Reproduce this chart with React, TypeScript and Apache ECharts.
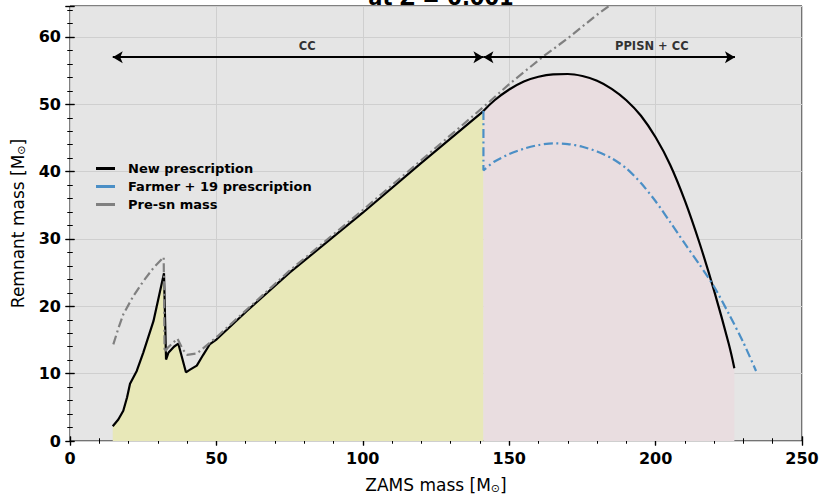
import React, { useEffect, useRef } from "react";
import * as echarts from "echarts";

// ---- data ----
const xTicks = [0, 50, 100, 150, 200, 250];
const yTicks = [0, 10, 20, 30, 40, 50, 60];

// New prescription, core-collapse part (ZAMS mass, remnant mass)
const newCC: [number, number][] = [
  [14.6, 2.2], [16.5, 3.2], [18.2, 4.5], [19.5, 6.5], [20.5, 8.5], [22.8, 10.4],
  [25.0, 13.1], [28.5, 17.8], [32.1, 24.9], [32.8, 12.1], [33.6, 13.1], [35.5, 14.0],
  [37.0, 14.45], [39.6, 10.2], [41.0, 10.6], [43.3, 11.2], [45.5, 12.8], [47.8, 14.4],
  [50.1, 15.1], [60.4, 19.3], [75.0, 25.0], [100.0, 33.9], [120.0, 41.3], [141.2, 49.0],
];
// New prescription, PPISN part
const newPPISN: [number, number][] = [
  [141.2, 49.0], [145, 50.6], [150, 52.2], [155, 53.4], [160, 54.1], [165, 54.45],
  [170, 54.5], [175, 54.2], [180, 53.5], [185, 52.3], [190, 50.6], [195, 48.3],
  [200, 45.1], [205, 41.0], [210, 35.7], [215, 29.4], [220, 22.3], [225, 14.4],
  [226.9, 10.8],
];
// Farmer+19 prescription (PPISN part; below 141 it coincides with the new prescription)
const farmerPPISN: [number, number][] = [
  [141.2, 49.0], [141.2, 40.2], [145, 41.5], [150, 42.6], [155, 43.4], [160, 43.95],
  [165, 44.2], [170, 44.1], [175, 43.7], [180, 43.0], [185, 42.0], [190, 40.5],
  [195, 38.3], [200, 35.6], [205, 32.5], [210, 29.3], [215, 26.2], [220, 22.9],
  [225, 18.9], [230, 14.6], [234.3, 10.4],
];
// Pre-supernova mass
const preSN: [number, number][] = [
  [14.8, 14.35], [16.5, 16.7], [18.2, 18.8], [21.6, 21.5], [25.0, 23.7], [28.5, 25.7],
  [32.0, 27.3], [32.3, 13.2], [33.5, 13.9], [36.7, 15.2], [38.5, 13.6], [40.0, 12.8],
  [43.3, 13.0], [47.8, 14.6], [50.5, 15.6], [75, 25.3], [100, 34.3], [120, 41.7],
  [141.2, 49.6], [150, 53.0], [161.6, 57.1], [170, 59.8], [180, 63.3], [186, 65.2],
];
// Regime arrows and their labels
const regimeArrows: [number, number, number][] = [
  [14.6, 141.2, 57],
  [141.2, 227.1, 57],
];
const regimeLabels: [number, number, string][] = [
  [81, 58.7, "CC"],
  [198.7, 58.7, "PPISN + CC"],
];

const FONT = "DejaVu Sans";

export default function App() {
  const ref = useRef<HTMLDivElement>(null);
  useEffect(() => {
    document.body.style.margin = "0";
    if (!ref.current) return;
    const chart = echarts.init(ref.current, undefined, { renderer: "svg" });

    const xBase = {
      type: "value" as const,
      min: 0,
      max: 250,
      interval: 50,
      axisLine: { show: false },
      splitLine: { show: false },
      axisLabel: { show: false },
      minorTick: { show: true, splitNumber: 5, length: 2.5, lineStyle: { color: "#000", width: 1 } },
      axisTick: { show: true, length: 4.5, lineStyle: { color: "#000", width: 1.2 } },
    };
    const yBase = {
      type: "value" as const,
      min: 0,
      max: 64.6,
      interval: 10,
      axisLine: { show: false },
      splitLine: { show: false },
      axisLabel: { show: false },
      minorTick: { show: true, splitNumber: 5, length: 2.5, lineStyle: { color: "#000", width: 1 } },
      axisTick: { show: true, length: 4.5, lineStyle: { color: "#000", width: 1.2 } },
    };

    chart.setOption({
      animation: false,
      backgroundColor: "#ffffff",
      title: {
        text: "at Z = 0.001",
        left: 436,
        textAlign: "center",
        top: -18,
        textStyle: { fontFamily: FONT, fontWeight: "bold", fontSize: 21, color: "#000" },
      },
      grid: {
        left: 70,
        right: 22,
        top: 6,
        bottom: 55,
        show: true,
        backgroundColor: "#e5e5e5",
        borderColor: "#000",
        borderWidth: 1,
      },
      legend: {
        orient: "vertical",
        left: 91,
        top: 157,
        itemWidth: 19,
        itemHeight: 3,
        itemGap: 5,
        icon: "rect",
        data: ["New prescription", "Farmer + 19 prescription", "Pre-sn mass"],
        textStyle: { fontFamily: FONT, fontWeight: "bold", fontSize: 13, color: "#000", padding: [0, 0, 0, 8] },
      },
      xAxis: [
        {
          ...xBase,
          position: "bottom",
          axisTick: { ...xBase.axisTick, inside: false },
          minorTick: { ...xBase.minorTick },
          splitLine: { show: true, lineStyle: { color: "#cfcfcf", width: 1 } },
          axisLabel: {
            show: true,
            margin: 9,
            fontFamily: FONT,
            fontWeight: "bold",
            fontSize: 16,
            color: "#000",
            formatter: (v: number) => (xTicks.includes(v) ? String(v) : ""),
          },
          name: "ZAMS mass [M{s|⊙}]",
          nameLocation: "middle",
          nameGap: 34,
          nameTextStyle: {
            fontFamily: FONT,
            fontSize: 17,
            color: "#000",
            rich: { s: { fontFamily: FONT, fontSize: 11, color: "#000", verticalAlign: "bottom", padding: [8, 0, 0, 0] } },
          },
        },
        { ...xBase, position: "bottom", axisTick: { ...xBase.axisTick, inside: true }, minorTick: { ...xBase.minorTick } },
        { ...xBase, position: "top", axisTick: { ...xBase.axisTick, inside: true }, minorTick: { ...xBase.minorTick } },
        { ...xBase, position: "top", axisTick: { ...xBase.axisTick, inside: false }, minorTick: { ...xBase.minorTick } },
      ],
      yAxis: [
        {
          ...yBase,
          position: "left",
          axisTick: { ...yBase.axisTick, inside: false },
          splitLine: { show: true, lineStyle: { color: "#cfcfcf", width: 1 } },
          axisLabel: {
            show: true,
            margin: 9,
            fontFamily: FONT,
            fontWeight: "bold",
            fontSize: 16,
            color: "#000",
            formatter: (v: number) => (yTicks.includes(v) ? String(v) : ""),
          },
          name: "Remnant mass [M{s|⊙}]",
          nameLocation: "middle",
          nameGap: 43,
          nameRotate: 90,
          nameTextStyle: {
            fontFamily: FONT,
            fontSize: 17,
            color: "#000",
            rich: { s: { fontFamily: FONT, fontSize: 11, color: "#000", verticalAlign: "bottom", padding: [8, 0, 0, 0] } },
          },
        },
        { ...yBase, position: "left", axisTick: { ...yBase.axisTick, inside: true } },
        { ...yBase, position: "right", axisTick: { ...yBase.axisTick, inside: true } },
        { ...yBase, position: "right", axisTick: { ...yBase.axisTick, inside: false } },
      ],
      series: [
        {
          name: "ccFill",
          type: "line",
          data: newCC,
          symbol: "none",
          lineStyle: { width: 0 },
          areaStyle: { color: "#e8e8b8", opacity: 1 },
          silent: true,
          z: 1,
        },
        {
          name: "ppisnFill",
          type: "line",
          data: newPPISN,
          symbol: "none",
          smooth: 0.4,
          lineStyle: { width: 0 },
          areaStyle: { color: "#e9dde0", opacity: 1 },
          silent: true,
          z: 1,
        },
        {
          name: "New prescription",
          type: "line",
          data: newCC,
          symbol: "none",
          color: "#000",
          lineStyle: { color: "#000", width: 2.2 },
          z: 3,
          markLine: {
            silent: true,
            symbol: ["arrow", "arrow"],
            symbolSize: [9, 10],
            lineStyle: { color: "#000", width: 2.2, type: "solid" },
            label: { show: false },
            emphasis: { disabled: true },
            data: regimeArrows.map(([a, b, y]) => [{ coord: [a, y] }, { coord: [b, y] }]),
          },
        },
        {
          name: "New prescription",
          type: "line",
          data: newPPISN,
          symbol: "none",
          smooth: 0.4,
          color: "#000",
          lineStyle: { color: "#000", width: 2.2 },
          z: 3,
        },
        {
          name: "Farmer + 19 prescription",
          type: "line",
          data: farmerPPISN,
          symbol: "none",
          smooth: 0.25,
          color: "#4b8fc6",
          lineStyle: { color: "#4b8fc6", width: 2.2, type: [9, 3.5, 2, 3.5] },
          z: 4,
        },
        {
          name: "Pre-sn mass",
          type: "line",
          data: preSN,
          symbol: "none",
          color: "#808080",
          lineStyle: { color: "#808080", width: 2.2, type: [9, 3.5, 2, 3.5] },
          z: 4,
        },
        {
          name: "labels",
          type: "scatter",
          data: regimeLabels.map(([x, y, t]) => ({ value: [x, y], name: t })),
          symbolSize: 0,
          silent: true,
          label: {
            show: true,
            position: "inside",
            formatter: (p: any) => p.name,
            fontFamily: FONT,
            fontWeight: "bold",
            fontSize: 11.5,
            color: "#000",
          },
          z: 5,
        },
      ],
    });
    return () => chart.dispose();
  }, []);
  return <div ref={ref} style={{ width: 824, height: 499 }} />;
}
